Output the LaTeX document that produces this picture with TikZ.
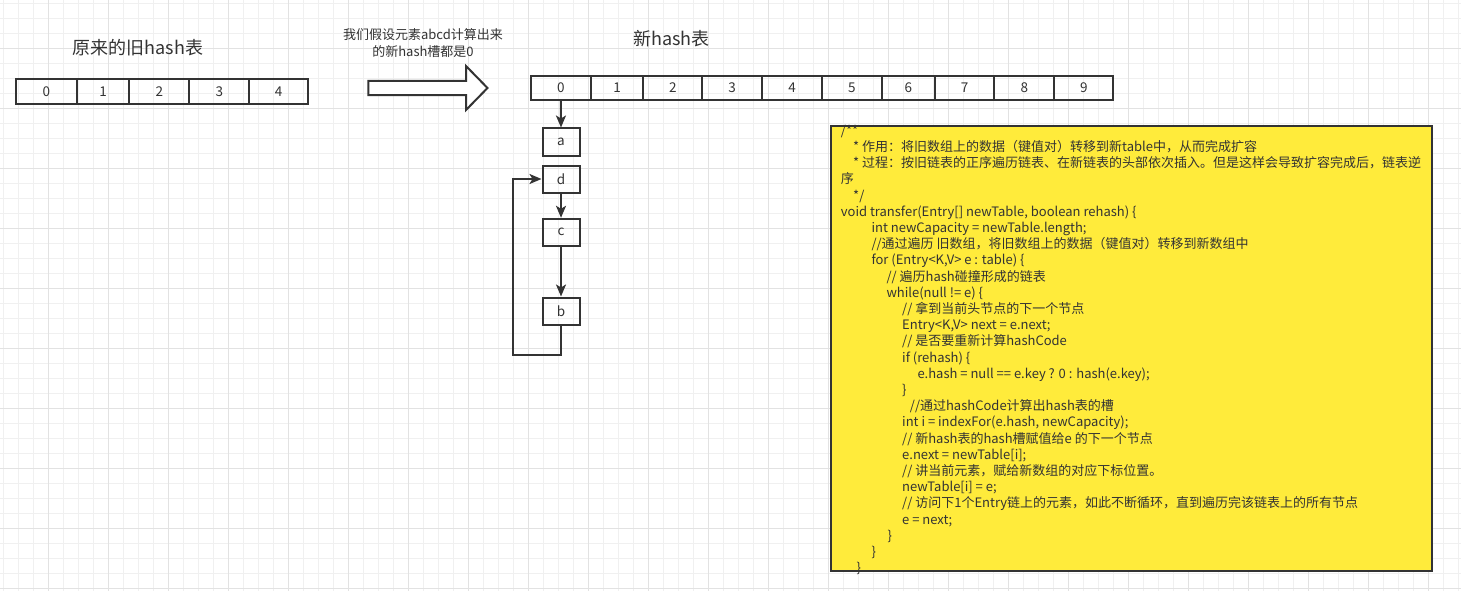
\documentclass[tikz,border=0pt]{standalone}
\usepackage{fontspec}
\setmainfont{Noto Sans CJK SC}
\usetikzlibrary{arrows.meta,positioning,calc}
\definecolor{ink}{HTML}{333333}
\definecolor{notefill}{HTML}{FFEB3B}
\definecolor{gridminor}{HTML}{F0F0F0}
\definecolor{gridmajor}{HTML}{E2E2E2}
\tikzset{
  >={Stealth[length=12pt,width=10pt,inset=3pt]},
  title/.style={font=\fontsize{18}{22}\selectfont, text=ink},
  remark/.style={font=\fontsize{13}{16.7}\selectfont, text=ink, align=center},
  cell/.style={draw=ink, line width=2pt, minimum height=24pt, inner sep=0pt,
    font=\fontsize{13.5}{16}\selectfont, text=ink},
  listnode/.style={cell, minimum width=37pt, minimum height=27pt},
  link/.style={->, draw=ink, line width=2pt},
  bigarrow/.style={draw=ink, fill=white, line width=2pt, line join=miter},
  codebox/.style={draw=ink, fill=notefill, line width=2pt, inner sep=0pt},
  codeline/.style={anchor=base west, inner sep=0pt, text=ink,
    font=\fontsize{13}{16}\selectfont},
  gridline/.style={draw=gridminor, line width=1pt},
  gridmajorline/.style={draw=gridmajor, line width=1pt}
}

\begin{document}
\begin{tikzpicture}[x=1pt,y=-1pt]
\useasboundingbox (0,0) rectangle (1461,591);
% background grid
\foreach \gx in {3.3,18.3,...,1461} \draw[gridline] (\gx,0) -- (\gx,591);
\foreach \gy in {3.3,18.3,...,591} \draw[gridline] (0,\gy) -- (1461,\gy);
\foreach \gx in {48.3,108.3,...,1461} \draw[gridmajorline] (\gx,0) -- (\gx,591);
\foreach \gy in {48.3,108.3,...,591} \draw[gridmajorline] (0,\gy) -- (1461,\gy);

% old table
\node[title] (oldtitle) at (138,47.5) {原来的旧hash表};
\foreach \i/\x/\w in {0/46.3/60.7,1/103/52.6,2/159.3/60,3/219.3/60,4/278.7/58.7}
  \node[cell, minimum width=\w pt, minimum height=24.7pt] (o\i) at (\x,91.7) {\i};

% shift arrow
\node[remark] (shiftnote) at (423,43.3) {我们假设元素abcd计算出来\\的新hash槽都是0};
\draw[bigarrow] (368.3,80.8) -- (466,80.8) -- (466,66) -- (487.5,88)
  -- (466,110) -- (466,95.2) -- (368.3,95.2) -- cycle;

% new table
\node[title] (newtitle) at (671.5,38.3) {新hash表};
\foreach \i/\x/\w in {0/560.9/59.7,1/617/52.6,2/672.8/59,3/732.2/59.7,4/792/60,
    5/851.8/59.6,6/908.3/53.4,7/964.7/59.3,8/1024.3/60,9/1083.8/59}
  \node[cell, minimum width=\w pt] (n\i) at (\x,88) {\i};

% chain in slot 0
\node[listnode] (ea) at (561,142) {a};
\node[listnode] (ed) at (561,179) {d};
\node[listnode] (ec) at (561,232.3) {c};
\node[listnode] (eb) at (561,311) {b};
\coordinate (loop) at (512.7,355);
\draw[link] (n0.south) -- (ea.north);
\draw[link] (ed) -- (ec);
\draw[link] (ec) -- (eb);
\draw[link] (eb.south) |- (loop) |- (ed.west);

% code note
\node[codebox, minimum width=601pt, minimum height=445pt, anchor=north west] (code) at (830,125) {};
\foreach \dx/\txt [count=\i] in {
  0/{/**},
  12.3/{* 作用：将旧数组上的数据（键值对）转移到新table中，从而完成扩容},
  12.3/{* 过程：按旧链表的正序遍历链表、在新链表的头部依次插入。但是这样会导致扩容完成后，链表逆},
  0/{序},
  12.3/{*/},
  0/{void transfer(Entry[] newTable, boolean rehash) \{},
  30.6/{int newCapacity = newTable.length;},
  30.6/{//通过遍历 旧数组，将旧数组上的数据（键值对）转移到新数组中},
  30.6/{for (Entry<K,V> e : table) \{},
  45.6/{// 遍历hash碰撞形成的链表},
  45.6/{while(null != e) \{},
  61.3/{// 拿到当前头节点的下一个节点},
  61.3/{Entry<K,V> next = e.next;},
  61.3/{// 是否要重新计算hashCode},
  61.3/{if (rehash) \{},
  76.6/{e.hash = null == e.key ? 0 : hash(e.key);},
  61.3/{\}},
  69/{//通过hashCode计算出hash表的槽},
  61.3/{int i = indexFor(e.hash, newCapacity);},
  61.3/{// 新hash表的hash槽赋值给e 的下一个节点},
  61.3/{e.next = newTable[i];},
  61.3/{// 讲当前元素，赋给新数组的对应下标位置。},
  61.3/{newTable[i] = e;},
  61.3/{// 访问下1个Entry链上的元素，如此不断循环，直到遍历完该链表上的所有节点},
  61.3/{e = next;},
  46.6/{\}},
  30.6/{\}},
  15.6/{\}}}
  \node[codeline] (cl\i) at (840.7+\dx,119.1+16.2*\i) {\txt};
\end{tikzpicture}
\end{document}
